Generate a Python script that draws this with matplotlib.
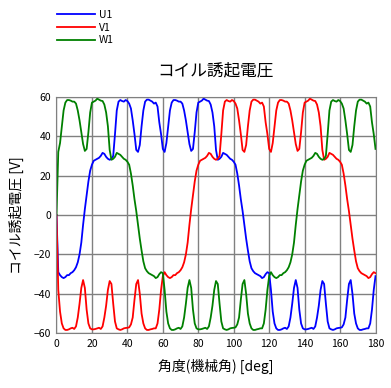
import numpy as np
import matplotlib
matplotlib.use('Agg')
import matplotlib.pyplot as plt

plt.rcParams['font.family'] = ['Noto Sans CJK JP', 'DejaVu Sans']

# mechanical angle [deg], 1 deg step
angle = np.arange(0, 181)

# induced coil voltage [V]
u1 = [0, -29, -30.5, -31.5, -32, -31.5, -30.5, -30.5, -29.5, -29,
      -28, -26.5, -24, -20, -14, -5, 3, 10, 17, 22.5,
      25.5, 27.5, 28, 28.5, 29, 30, 31.5, 31, 29.5, 28.5,
      28, 28.5, 30, 41, 53, 57.5, 58.3, 57.8, 57.5, 58.3,
      57.8, 56.5, 54, 48, 41, 33, 32, 35.5, 45, 53,
      57.5, 58.5, 58.5, 58, 57.5, 56.5, 57, 55, 47, 41,
      33.5, 32, 36.5, 45, 53, 57, 58.3, 58.3, 58, 57.5,
      57.5, 56.5, 53, 48, 42, 36, 32.5, 33.5, 42, 52,
      57, 57.5, 58, 59, 58.5, 58, 57.8, 56, 52, 45,
      33, 28, 28.5, 29.5, 31.5, 31, 30.5, 29.5, 28.5, 28,
      27, 25.5, 21, 15, 8, 2, -5, -12, -18, -23.5,
      -27, -28.5, -29.5, -30, -30.5, -31, -32, -31.5, -30, -29,
      -29.5, -38, -49, -55, -57.5, -58.3, -58.3, -58, -57.5, -57.2,
      -57.8, -56.5, -52, -45, -37, -33, -37, -48, -55, -57.5,
      -58, -58, -57.8, -57.5, -57.2, -57.8, -56.5, -52, -46, -38,
      -33.5, -35, -45, -54, -57.5, -58, -58.3, -58, -57.5, -57.3,
      -57.2, -57, -55.5, -52, -43, -35, -33, -40, -50, -55,
      -57.5, -58.3, -58.3, -58, -57.8, -57.5, -57.5, -55, -48, -38,
      -31]

v1 = [0, -38, -49, -55, -57.5, -58.3, -58.3, -58, -57.5, -57.2,
      -57.8, -56.5, -52, -45, -37, -33, -37, -48, -55, -57.5,
      -58, -58, -57.8, -57.5, -57.2, -57.8, -56.5, -52, -46, -38,
      -33.5, -35, -45, -54, -57.5, -58, -58.3, -58, -57.5, -57.3,
      -57.2, -57, -55.5, -52, -43, -35, -33, -40, -50, -55,
      -57.5, -58.3, -58.3, -58, -57.8, -57.5, -57.5, -55, -48, -38,
      -31, -29, -30.5, -31.5, -32, -31.5, -30.5, -30.5, -29.5, -29,
      -28, -26.5, -24, -20, -14, -5, 3, 10, 17, 22.5,
      25.5, 27.5, 28, 28.5, 29, 30, 31.5, 31, 29.5, 28.5,
      28, 28.5, 30, 41, 53, 57.5, 58.3, 57.8, 57.5, 58.3,
      57.8, 56.5, 54, 48, 41, 33, 32, 35.5, 45, 53,
      57.5, 58.5, 58.5, 58, 57.5, 56.5, 57, 55, 47, 41,
      33.5, 32, 36.5, 45, 53, 57, 58.3, 58.3, 58, 57.5,
      57.5, 56.5, 53, 48, 42, 36, 32.5, 33.5, 42, 52,
      57, 57.5, 58, 59, 58.5, 58, 57.8, 56, 52, 45,
      33, 28, 28.5, 29.5, 31.5, 31, 30.5, 29.5, 28.5, 28,
      27, 25.5, 21, 15, 8, 2, -5, -12, -18, -23.5,
      -27, -28.5, -29.5, -30, -30.5, -31, -32, -31.5, -30, -29,
      -29.5]

w1 = [0, 32, 36.5, 45, 53, 57, 58.3, 58.3, 58, 57.5,
      57.5, 56.5, 53, 48, 42, 36, 32.5, 33.5, 42, 52,
      57, 57.5, 58, 59, 58.5, 58, 57.8, 56, 52, 45,
      33, 28, 28.5, 29.5, 31.5, 31, 30.5, 29.5, 28.5, 28,
      27, 25.5, 21, 15, 8, 2, -5, -12, -18, -23.5,
      -27, -28.5, -29.5, -30, -30.5, -31, -32, -31.5, -30, -29,
      -29.5, -38, -49, -55, -57.5, -58.3, -58.3, -58, -57.5, -57.2,
      -57.8, -56.5, -52, -45, -37, -33, -37, -48, -55, -57.5,
      -58, -58, -57.8, -57.5, -57.2, -57.8, -56.5, -52, -46, -38,
      -33.5, -35, -45, -54, -57.5, -58, -58.3, -58, -57.5, -57.3,
      -57.2, -57, -55.5, -52, -43, -35, -33, -40, -50, -55,
      -57.5, -58.3, -58.3, -58, -57.8, -57.5, -57.5, -55, -48, -38,
      -31, -29, -30.5, -31.5, -32, -31.5, -30.5, -30.5, -29.5, -29,
      -28, -26.5, -24, -20, -14, -5, 3, 10, 17, 22.5,
      25.5, 27.5, 28, 28.5, 29, 30, 31.5, 31, 29.5, 28.5,
      28, 28.5, 30, 41, 53, 57.5, 58.3, 57.8, 57.5, 58.3,
      57.8, 56.5, 54, 48, 41, 33, 32, 35.5, 45, 53,
      57.5, 58.5, 58.5, 58, 57.5, 56.5, 57, 55, 47, 41,
      33.5]

fig = plt.figure(figsize=(3.91, 3.88), dpi=100)
ax = fig.add_axes([0.1445, 0.141, 0.8159, 0.6098])

ax.plot(angle, u1, color='#0000ff', lw=1.3, label='U1')
ax.plot(angle, v1, color='#ff0000', lw=1.3, label='V1')
ax.plot(angle, w1, color='#008000', lw=1.3, label='W1')

ax.set_xlim(0, 180)
ax.set_ylim(-60, 60)
ax.set_xticks(range(0, 181, 20))
ax.set_yticks(range(-60, 61, 20))
ax.grid(True, color='#808080', lw=1)
ax.set_axisbelow(True)
for s in ax.spines.values():
    s.set_color('#808080')
ax.tick_params(length=0, labelsize=7.5, pad=4)

ax.set_title('コイル誘起電圧', fontsize=12, pad=15)
ax.set_xlabel('角度(機械角) [deg]', fontsize=10, labelpad=7)
ax.set_ylabel('コイル誘起電圧 [V]', fontsize=10, labelpad=7)

fig.legend(loc='upper left', bbox_to_anchor=(57 / 391, 1 - 10 / 388),
           frameon=False, fontsize=7.5, handlelength=3.6, labelspacing=0.25,
           handletextpad=0.4, borderaxespad=0, borderpad=0)

fig.savefig('out.png', dpi=100)
